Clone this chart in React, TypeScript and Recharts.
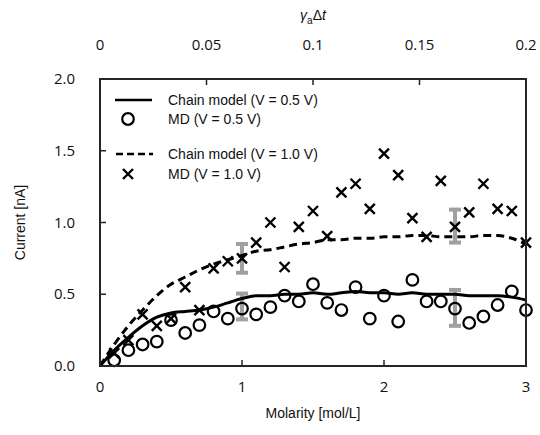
import React from "react";
import {
  ComposedChart,
  Line,
  Scatter,
  XAxis,
  YAxis,
  ErrorBar,
  Label,
} from "recharts";

// molarity steps
const chainX = [0, 0.1, 0.2, 0.3, 0.4, 0.5, 0.6, 0.7, 0.8, 0.9, 1.0, 1.1, 1.2, 1.3, 1.4, 1.5, 1.6, 1.7, 1.8, 1.9, 2.0, 2.1, 2.2, 2.3, 2.4, 2.5, 2.6, 2.7, 2.8, 2.9, 3.0];
const chain05 = [0, 0.11, 0.2, 0.28, 0.34, 0.37, 0.38, 0.39, 0.41, 0.44, 0.47, 0.49, 0.49, 0.5, 0.5, 0.51, 0.5, 0.51, 0.52, 0.51, 0.51, 0.5, 0.51, 0.5, 0.5, 0.5, 0.49, 0.49, 0.49, 0.48, 0.46];
const chain10 = [0, 0.15, 0.28, 0.39, 0.49, 0.57, 0.62, 0.67, 0.71, 0.74, 0.77, 0.8, 0.81, 0.83, 0.85, 0.86, 0.88, 0.88, 0.89, 0.89, 0.9, 0.9, 0.91, 0.91, 0.9, 0.9, 0.9, 0.91, 0.91, 0.89, 0.85];

const mdX = [0.1, 0.2, 0.3, 0.4, 0.5, 0.6, 0.7, 0.8, 0.9, 1.0, 1.1, 1.2, 1.3, 1.4, 1.5, 1.6, 1.7, 1.8, 1.9, 2.0, 2.1, 2.2, 2.3, 2.4, 2.5, 2.6, 2.7, 2.8, 2.9, 3.0];
const md05 = [0.04, 0.11, 0.15, 0.17, 0.32, 0.23, 0.285, 0.38, 0.33, 0.4, 0.36, 0.41, 0.49, 0.45, 0.57, 0.44, 0.39, 0.55, 0.33, 0.49, 0.31, 0.6, 0.45, 0.45, 0.4, 0.3, 0.345, 0.425, 0.52, 0.39];
const md10 = [0.09, 0.18, 0.36, 0.28, 0.33, 0.55, 0.39, 0.68, 0.73, 0.75, 0.86, 1.0, 0.69, 0.97, 1.08, 0.905, 1.21, 1.27, 1.095, 1.48, 1.33, 1.03, 0.9, 1.29, 0.97, 1.07, 1.27, 1.095, 1.08, 0.86];

// error bars: molarity, mean, half range
const errX = [1.0, 1.0, 2.5, 2.5];
const errY = [0.75, 0.415, 0.975, 0.405];
const errD = [0.1, 0.09, 0.115, 0.125];

const bottomTicks = [0, 1, 2, 3];
const topTicks = [0, 0.05, 0.1, 0.15, 0.2];
const yTicks = [0, 0.5, 1, 1.5, 2];

const chain05Data = chainX.map((x, i) => ({ x, y: chain05[i] }));
const chain10Data = chainX.map((x, i) => ({ x, y: chain10[i] }));
const md05Data = mdX.map((x, i) => ({ x, y: md05[i] }));
const md10Data = mdX.map((x, i) => ({ x, y: md10[i] }));
const errData = errX.map((x, i) => ({ x, y: errY[i], err: errD[i] }));
const topData = topTicks.map((x) => ({ x, y: 0 }));

// layout
const W = 540;
const H = 435;
const LEFT_W = 100;
const RIGHT_W = 14;
const TOP_H = 79;
const BOTTOM_H = 69;
const PLOT = { x: LEFT_W, y: TOP_H, w: W - LEFT_W - RIGHT_W, h: H - TOP_H - BOTTOM_H };

const TICK_FAMILY = "'Open Sans', sans-serif";
const TITLE_FONT = "'Liberation Sans', Arial, sans-serif";
const INK = "#111";
const FRAME = "#262626";

const Circle = (p: any) => (
  <circle cx={p.cx} cy={p.cy} r={5.8} fill="none" stroke="#000" strokeWidth={2.2} />
);

const Cross = (p: any) => (
  <path
    d={`M${p.cx - 5},${p.cy - 5}L${p.cx + 5},${p.cy + 5}M${p.cx - 5},${p.cy + 5}L${p.cx + 5},${p.cy - 5}`}
    stroke="#000"
    strokeWidth={2.4}
  />
);

const Empty = () => <g />;

// labels sit outside the frame
const BottomTick = ({ x, y, payload }: any) => (
  <text x={x} y={y + 26} textAnchor="middle" fontFamily={TICK_FAMILY} fontSize={15} fill={INK}>
    {payload.value}
  </text>
);

const TopTick = ({ x, y, payload }: any) => (
  <text x={x} y={y - 29} textAnchor="middle" fontFamily={TICK_FAMILY} fontSize={15} fill={INK}>
    {payload.value}
  </text>
);

const LeftTick = ({ x, y, payload }: any) => (
  <text x={x - 25} y={y + 5} textAnchor="end" fontFamily={TICK_FAMILY} fontSize={15} fill={INK}>
    {Number(payload.value).toFixed(1)}
  </text>
);

const TopTitle = ({ viewBox }: any) => (
  <text
    x={viewBox.x + viewBox.width / 2}
    y={viewBox.y + 20}
    textAnchor="middle"
    fontFamily={TITLE_FONT}
    fontSize={14}
    fill={INK}
  >
    <tspan fontStyle="italic">γ</tspan>
    <tspan fontSize={10} dy={4}>a</tspan>
    <tspan dy={-4}>Δ</tspan>
    <tspan fontStyle="italic">t</tspan>
  </text>
);

const YTitle = ({ viewBox }: any) => {
  const x = viewBox.x + 20;
  const y = viewBox.y + viewBox.height / 2;
  return (
    <text
      x={x}
      y={y}
      transform={`rotate(-90 ${x} ${y})`}
      textAnchor="middle"
      dominantBaseline="central"
      fontFamily={TITLE_FONT}
      fontSize={14}
      fill={INK}
    >
      Current [nA]
    </text>
  );
};

const legendItems = [
  { label: "Chain model (V = 0.5 V)", kind: "solid", y: 100 },
  { label: "MD (V = 0.5 V)", kind: "circle", y: 119 },
  { label: "Chain model (V = 1.0 V)", kind: "dash", y: 154 },
  { label: "MD (V = 1.0 V)", kind: "cross", y: 174 },
];

// frame as filled strips, inward ticks and legend
function Overlay() {
  const bx = (v: number) => PLOT.x + (v / 3) * PLOT.w;
  const tx = (v: number) => PLOT.x + (v / 0.2) * PLOT.w;
  const ly = (v: number) => PLOT.y + PLOT.h - (v / 2) * PLOT.h;
  const bottom = PLOT.y + PLOT.h;
  const right = PLOT.x + PLOT.w;
  return (
    <svg width={W} height={H} style={{ position: "absolute", left: 0, top: 0, pointerEvents: "none" }}>
      <rect x={PLOT.x - 1} y={PLOT.y - 1} width={PLOT.w + 2} height={2} fill={FRAME} />
      <rect x={PLOT.x - 1} y={bottom - 1} width={PLOT.w + 2} height={2} fill={FRAME} />
      <rect x={PLOT.x - 1} y={PLOT.y - 1} width={2} height={PLOT.h + 2} fill={FRAME} />
      <rect x={right - 1} y={PLOT.y - 1} width={2} height={PLOT.h + 2} fill={FRAME} />
      {bottomTicks.map((v) => (
        <rect key={`b${v}`} x={bx(v) - 0.75} y={bottom - 6} width={1.5} height={6} fill={FRAME} />
      ))}
      {topTicks.map((v) => (
        <rect key={`t${v}`} x={tx(v) - 0.75} y={PLOT.y} width={1.5} height={6} fill={FRAME} />
      ))}
      {yTicks.map((v) => (
        <rect key={`l${v}`} x={PLOT.x} y={ly(v) - 0.75} width={6} height={1.5} fill={FRAME} />
      ))}
      {legendItems.map((it) => (
        <g key={it.label}>
          {it.kind === "solid" && <line x1={115} x2={152} y1={it.y} y2={it.y} stroke="#000" strokeWidth={2.5} />}
          {it.kind === "dash" && (
            <line x1={116} x2={153} y1={it.y} y2={it.y} stroke="#000" strokeWidth={2.5} strokeDasharray="7 4" />
          )}
          {it.kind === "circle" && <Circle cx={128} cy={it.y} />}
          {it.kind === "cross" && <Cross cx={128} cy={it.y} />}
          <text x={168} y={it.y} dominantBaseline="central" fontFamily={TITLE_FONT} fontSize={14} fill={INK}>
            {it.label}
          </text>
        </g>
      ))}
    </svg>
  );
}

export default function App() {
  return (
    <div style={{ position: "absolute", left: 0, top: 0, width: W, height: H, background: "#fff" }}>
      <ComposedChart width={W} height={H} margin={{ top: 0, right: RIGHT_W, bottom: 0, left: 0 }}>
        <XAxis
          dataKey="x"
          type="number"
          domain={[0, 3]}
          ticks={bottomTicks}
          height={BOTTOM_H}
          tickSize={0}
          tickMargin={0}
          tick={<BottomTick />}
          axisLine={false}
        >
          <Label
            value="Molarity [mol/L]"
            position="insideBottom"
            offset={17}
            style={{ fontFamily: TITLE_FONT, fontSize: 14, fill: INK }}
          />
        </XAxis>
        <XAxis
          xAxisId="top"
          dataKey="x"
          orientation="top"
          type="number"
          domain={[0, 0.2]}
          ticks={topTicks}
          height={TOP_H}
          tickSize={0}
          tickMargin={0}
          tick={<TopTick />}
          axisLine={false}
        >
          <Label content={<TopTitle />} />
        </XAxis>
        <YAxis
          type="number"
          domain={[0, 2]}
          ticks={yTicks}
          width={LEFT_W}
          tickSize={0}
          tickMargin={0}
          tick={<LeftTick />}
          axisLine={false}
        >
          <Label content={<YTitle />} />
        </YAxis>

        <Scatter data={topData} dataKey="y" xAxisId="top" shape={<Empty />} isAnimationActive={false} />
        <Scatter data={errData} dataKey="y" shape={<Empty />} isAnimationActive={false}>
          <ErrorBar dataKey="err" direction="y" width={6} stroke="#a0a0a0" strokeWidth={4} isAnimationActive={false} />
        </Scatter>
        <Line
          data={chain05Data}
          dataKey="y"
          type="monotone"
          stroke="#000"
          strokeWidth={3}
          dot={false}
          isAnimationActive={false}
        />
        <Line
          data={chain10Data}
          dataKey="y"
          type="monotone"
          stroke="#000"
          strokeWidth={3}
          strokeDasharray="8 5"
          dot={false}
          isAnimationActive={false}
        />
        <Scatter data={md05Data} dataKey="y" shape={<Circle />} isAnimationActive={false} />
        <Scatter data={md10Data} dataKey="y" shape={<Cross />} isAnimationActive={false} />
      </ComposedChart>
      <Overlay />
    </div>
  );
}
